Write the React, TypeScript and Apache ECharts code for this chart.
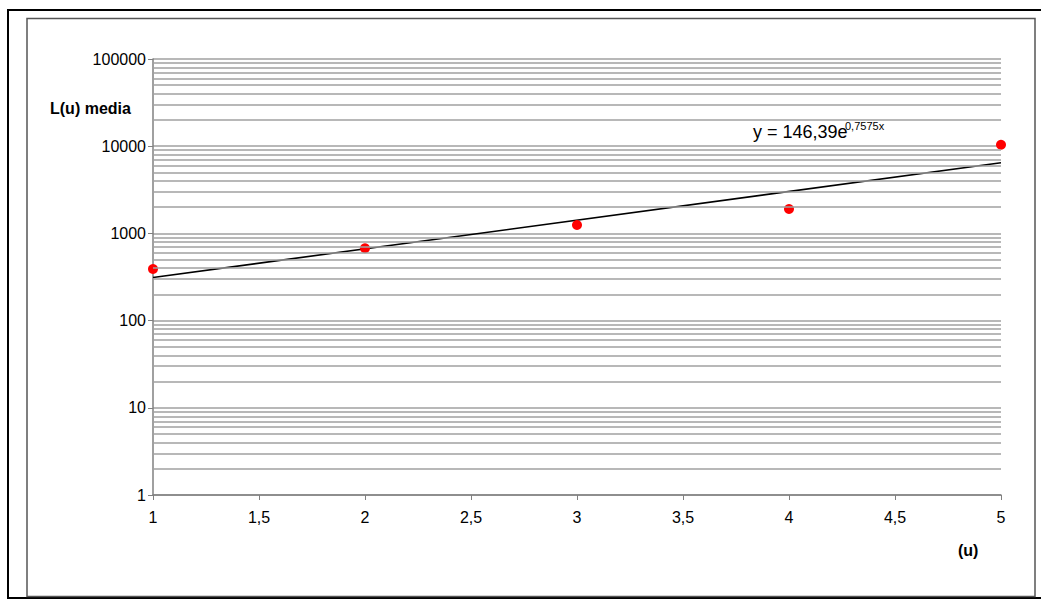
import React, { useEffect, useRef } from "react";
import * as echarts from "echarts";

const xValues = [1, 2, 3, 4, 5];
const yValues = [391, 675, 1248, 1905, 10400];
const trendX = [1, 5];
const trendY = [312, 6460];
const decades = [1, 10, 100, 1000, 10000];
const minorMultipliers = [2, 3, 4, 5, 6, 7, 8, 9];

const FONT = "'Liberation Sans', Arial, sans-serif";

export default function App() {
  const ref = useRef<HTMLDivElement>(null);
  useEffect(() => {
    if (!ref.current) return;
    const chart = echarts.init(ref.current, null, { renderer: "svg" });
    const minorValues: number[] = [];
    decades.forEach((d) => minorMultipliers.forEach((m) => minorValues.push(d * m)));
    chart.setOption({
      animation: false,
      backgroundColor: "#fff",
      textStyle: { fontFamily: FONT },
      grid: { left: 153, right: 40, top: 59, bottom: 104, containLabel: false },
      xAxis: {
        type: "value",
        min: 1,
        max: 5,
        interval: 0.5,
        axisLine: { show: true, onZero: false, lineStyle: { color: "#808080", width: 1.5 } },
        axisTick: { show: true, inside: false, length: 5, lineStyle: { color: "#808080" } },
        axisLabel: {
          color: "#000",
          fontSize: 16,
          fontFamily: FONT,
          margin: 14,
          formatter: (v: number) => String(v).replace(".", ","),
        },
        splitLine: { show: false },
      },
      yAxis: {
        type: "log",
        logBase: 10,
        min: 1,
        max: 100000,
        axisLine: { show: true, lineStyle: { color: "#808080", width: 1.5 } },
        axisTick: { show: true, inside: false, length: 5, lineStyle: { color: "#808080" } },
        axisLabel: {
          color: "#000",
          fontSize: 16,
          fontFamily: FONT,
          margin: 7,
          formatter: (v: number) => String(Math.round(v)),
        },
        splitLine: { show: true, lineStyle: { color: "#a0a0a0", width: 1.5 } },
      },
      series: [
        {
          type: "line",
          data: [],
          silent: true,
          markLine: {
            silent: true,
            symbol: "none",
            label: { show: false },
            lineStyle: { color: "#a0a0a0", width: 1.5, type: "solid" },
            data: minorValues.map((v) => ({ yAxis: v })),
          },
        },
        {
          type: "line",
          data: trendX.map((x, i) => [x, trendY[i]]),
          showSymbol: false,
          symbol: "none",
          lineStyle: { color: "#000", width: 1.6 },
          z: 3,
        },
        {
          type: "scatter",
          data: xValues.map((x, i) => [x, yValues[i]]),
          symbol: "circle",
          symbolSize: 10,
          itemStyle: { color: "#ff0000", opacity: 1 },
          z: 4,
        },
      ],
      graphic: [
        {
          type: "rect",
          shape: { x: 8, y: 10, width: 1050, height: 588 },
          style: { fill: "none", stroke: "#000", lineWidth: 2 },
          silent: true,
          z: -1,
        },
        {
          type: "rect",
          shape: { x: 27, y: 18.5, width: 1008, height: 578 },
          style: { fill: "none", stroke: "#555", lineWidth: 1.5 },
          silent: true,
          z: -1,
        },
        {
          type: "text",
          x: 50,
          y: 108,
          style: {
            text: "L(u) media",
            font: `bold 16px ${FONT}`,
            fill: "#000",
            verticalAlign: "middle",
          },
        },
        {
          type: "text",
          x: 958,
          y: 550,
          style: {
            text: "(u)",
            font: `bold 16px ${FONT}`,
            fill: "#000",
            verticalAlign: "middle",
          },
        },
        {
          type: "text",
          x: 753,
          y: 132,
          style: {
            text: "y = 146,39e",
            font: `18px ${FONT}`,
            fill: "#000",
            verticalAlign: "middle",
          },
        },
        {
          type: "text",
          x: 845,
          y: 126,
          style: {
            text: "0,7575x",
            font: `11px ${FONT}`,
            fill: "#000",
            verticalAlign: "middle",
          },
        },
      ],
    });
    return () => chart.dispose();
  }, []);
  return <div ref={ref} style={{ width: 1041, height: 599, position: "absolute", left: 0, top: 0 }} />;
}
